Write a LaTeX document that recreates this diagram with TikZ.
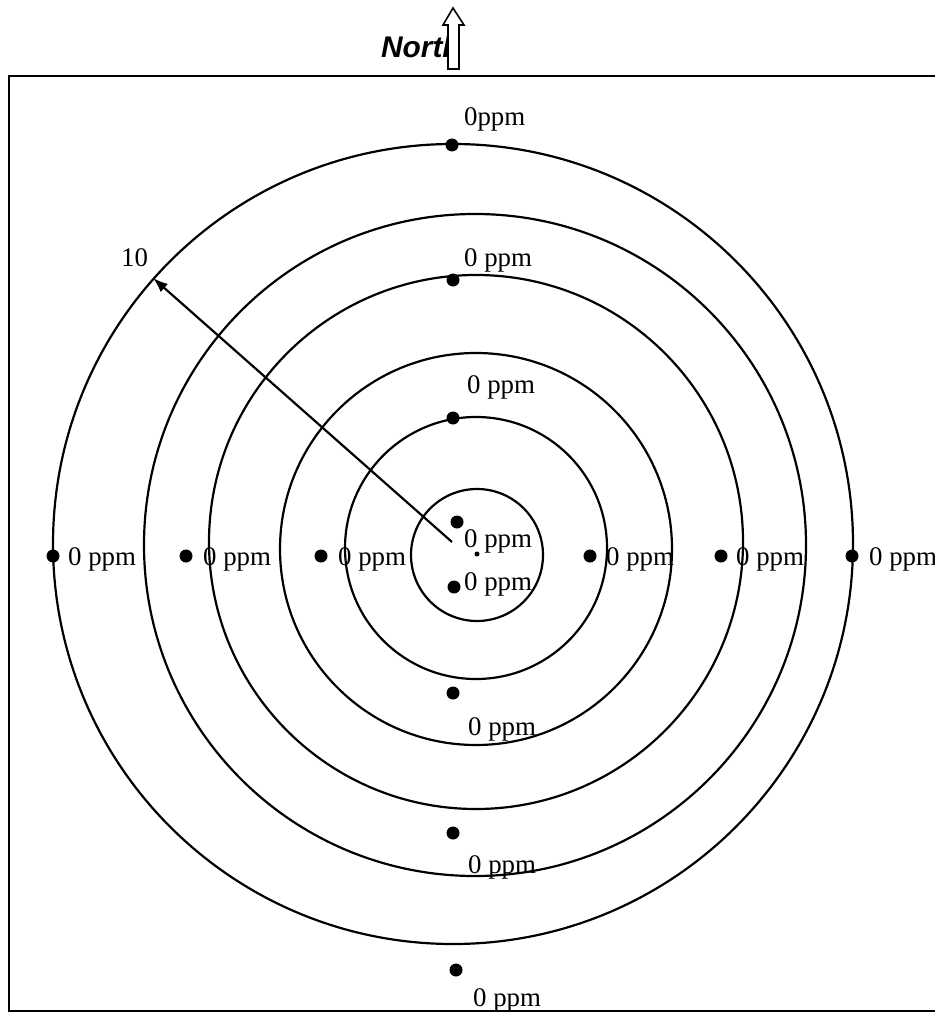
\documentclass[tikz,border=0pt]{standalone}
\usepackage{fontspec}
\setmainfont{Liberation Serif}
\newfontfamily\northfont{Liberation Sans}
\usetikzlibrary{arrows.meta,calc}

\begin{document}
\begin{tikzpicture}[x=0.02cm, y=-0.02cm, >={Latex[length=0.3cm,width=0.22cm]}, line width=1.25pt,
    dot/.style={circle, fill=black, inner sep=0pt, minimum size=13*0.02cm},
    lbl/.style={anchor=base west, inner sep=0pt, font=\fontsize{15.3}{15.3}\selectfont}]

\useasboundingbox (0,0) rectangle (935,1013);
\clip (0,0) rectangle (935,1013);

% frame
\draw (9,76) rectangle (960,1011);

% rings
\foreach \cx/\cy/\r in {477/555/66, 476/548/131, 476/549/196, 476/542/267, 475/545/331, 453/544/400}
    \draw (\cx,\cy) circle (\r);

% sampling points
\node[dot] at (452,145) (n1) {};
\node[dot] at (453,280) (n2) {};
\node[dot] at (453,418) (n3) {};
\node[dot] at (457,522) (c1) {};
\node[circle, fill=black, inner sep=0pt, minimum size=5*0.02cm] at (477,554) (c0) {};
\node[dot] at (454,587) (c2) {};
\node[dot] at (453,693) (s1) {};
\node[dot] at (453,833) (s2) {};
\node[dot] at (456,970) (s3) {};
\node[dot] at (53,556) (w1) {};
\node[dot] at (186,556) (w2) {};
\node[dot] at (321,556) (w3) {};
\node[dot] at (590,556) (e1) {};
\node[dot] at (721,556) (e2) {};
\node[dot] at (852,556) (e3) {};

% readings
\node[lbl] at (463,126) (ln1) {0ppm};
\node[lbl] at (463,267) (ln2) {0 ppm};
\node[lbl] at (466,393) (ln3) {0 ppm};
\node[lbl] at (463,547) (lc1) {0 ppm};
\node[lbl] at (463,590) (lc2) {0 ppm};
\node[lbl] at (467,735) (ls1) {0 ppm};
\node[lbl] at (467,873) (ls2) {0 ppm};
\node[lbl] at (472,1006) (ls3) {0 ppm};
\node[lbl] at (67,565) (lw1) {0 ppm};
\node[lbl] at (202,565) (lw2) {0 ppm};
\node[lbl] at (337,565) (lw3) {0 ppm};
\node[lbl] at (605,565) (le1) {0 ppm};
\node[lbl] at (735,565) (le2) {0 ppm};
\node[lbl] at (868,565) (le3) {0 ppm};

% radius
\coordinate (src) at (452,542);
\coordinate (tip) at (153,278);
\draw [->] (src) -- (tip);
\node[lbl] at (120,267) (rad) {10};

% north
\begin{scope}
\clip (300,0) rectangle (448,75);
\node[anchor=base west, inner sep=0pt, font=\northfont\bfseries\itshape\fontsize{17}{17}\selectfont] at (380,58) (north) {North};
\end{scope}
\draw[fill=white, line width=0.9pt] (448,69) -- (448,25) -- (443,25) -- (453,8) -- (464,25) -- (459,25) -- (459,69) -- cycle;
\end{tikzpicture}
\end{document}
